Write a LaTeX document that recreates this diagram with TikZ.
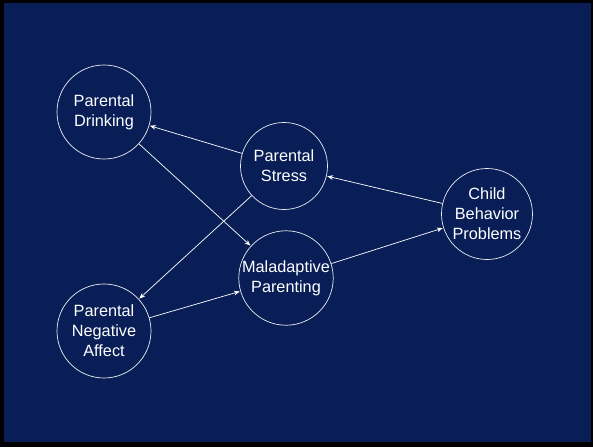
\documentclass[tikz,border=0pt]{standalone}
\usepackage{fontspec}
\setmainfont{Liberation Sans}
\usetikzlibrary{arrows.meta}
\definecolor{slidenavy}{RGB}{9,30,86}

\tikzset{
	factor/.style={circle, draw=white!92!slidenavy, line width=0.6pt, text=white, align=center, inner sep=0pt,
		minimum size=#1*0.03cm, font=\fontsize{13.9}{17}\selectfont},
	path arrow/.style={draw=white, line width=0.6pt, -{Stealth[length=5pt,width=4pt]}, shorten >=0.5pt}
}

\begin{document}
\begin{tikzpicture}[x=0.03cm, y=-0.03cm]
		%%%%% START %%%%%
		
		\useasboundingbox (0, 0) rectangle (593, 447);
		\fill[black] (0, 0) rectangle (593, 447);
		\fill[slidenavy] (4, 3) rectangle (591, 442);
		
		\node[factor=94] (drinking) at (104, 112) {Parental\\Drinking};
		\node[factor=87] (stress) at (284, 166) {Parental\\Stress};
		\node[factor=93] (maladaptive) at (286, 278) {Maladaptive\\Parenting};
		\node[factor=91] (child) at (487, 214) {Child\\Behavior\\Problems};
		\node[factor=94] (negaffect) at (104, 331) {Parental\\Negative\\Affect};
		
		\draw[path arrow] (stress) -- (drinking);
		\draw[path arrow] (drinking) -- (maladaptive);
		\draw[path arrow] (stress) -- (negaffect);
		\draw[path arrow] (negaffect) -- (maladaptive);
		\draw[path arrow] (maladaptive) -- (child);
		\draw[path arrow] (child) -- (stress);
		
		%%%%% END %%%%%
	\end{tikzpicture}
\end{document}
